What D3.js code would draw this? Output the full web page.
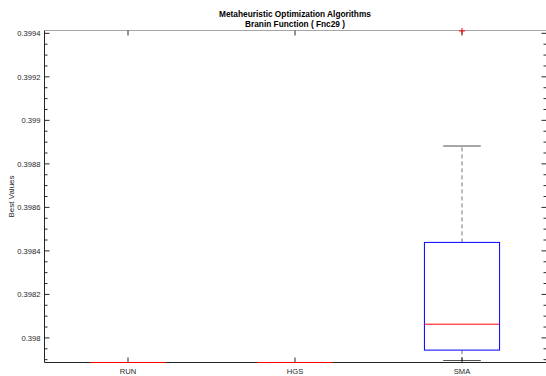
<!DOCTYPE html>
<html lang="en">
<head>
    <meta charset="UTF-8">
    <title>Branin Function boxplot</title>
    <script src="https://d3js.org/d3.v7.min.js"></script>
    <style>
        body { margin: 0; background: #fff; }
        svg { display: block; font-family: "Liberation Sans", Arial, sans-serif; }
        .tick-label { font-size: 7.6px; fill: #262626; }
        .title { font-size: 8.3px; font-weight: bold; fill: #000; }
    </style>
</head>
<body>
    <svg width="546" height="376"></svg>

    <script>
        // Box statistics per algorithm
        const algorithms = ["RUN", "HGS", "SMA"];
        const lowerWhisker = [0.397887, 0.397887, 0.397896];
        const q1 = [0.397887, 0.397887, 0.397944];
        const median = [0.397887, 0.397887, 0.398063];
        const q3 = [0.397887, 0.397887, 0.398439];
        const upperWhisker = [0.397887, 0.397887, 0.398882];
        const outliers = [[], [], [0.399411]];
        const yTicks = [0.398, 0.3982, 0.3984, 0.3986, 0.3988, 0.399, 0.3992, 0.3994];
        const yTickLabels = ["0.398", "0.3982", "0.3984", "0.3986", "0.3988", "0.399", "0.3992", "0.3994"];

        const svg = d3.select("svg");
        // half-pixel edges so the axis frame lines stay sharp
        const plotLeft = 44.5, plotRight = 545.5, plotTop = 30.5, plotBottom = 362.5;

        const x = d3.scaleLinear().domain([0.5, 3.5]).range([plotLeft, plotRight]);
        const y = d3.scaleLinear().domain([0.397887, 0.399413]).range([plotBottom, plotTop]);

        const boxHalf = 0.225, capHalf = 0.1125;

        // minor ticks every 0.00005
        const minorTicks = d3.range(0, 31).map(i => 0.3979 + i * 0.00005)
            .filter(v => v >= y.domain()[0] && v <= y.domain()[1]);

        const g = svg.append("g");

        // top border (gray)
        g.append("line")
            .attr("x1", plotLeft).attr("x2", plotRight + 1).attr("y1", plotTop).attr("y2", plotTop)
            .attr("stroke", "#a6a6a6").attr("stroke-width", 1);

        // left and bottom axis lines
        g.append("line")
            .attr("x1", plotLeft).attr("x2", plotLeft).attr("y1", plotTop).attr("y2", plotBottom)
            .attr("stroke", "#262626");
        g.append("line")
            .attr("x1", plotLeft).attr("x2", plotRight + 1).attr("y1", plotBottom).attr("y2", plotBottom)
            .attr("stroke", "#262626");

        // y ticks on left and right
        minorTicks.forEach(v => {
            const isMajor = yTicks.some(t => Math.abs(t - v) < 1e-9);
            const len = isMajor ? 5 : 3;
            g.append("line")
                .attr("x1", plotLeft).attr("x2", plotLeft + len)
                .attr("y1", y(v)).attr("y2", y(v))
                .attr("stroke", "#262626");
            g.append("line")
                .attr("x1", plotRight + 1).attr("x2", plotRight + 1 - len)
                .attr("y1", y(v)).attr("y2", y(v))
                .attr("stroke", "#262626");
        });

        yTicks.forEach((v, i) => {
            g.append("text")
                .attr("class", "tick-label")
                .attr("x", plotLeft - 4)
                .attr("y", y(v))
                .attr("dy", "0.35em")
                .attr("text-anchor", "end")
                .text(yTickLabels[i]);
        });

        // x ticks (bottom and top, pointing inward)
        algorithms.forEach((name, i) => {
            const cx = x(i + 1);
            g.append("line")
                .attr("x1", cx).attr("x2", cx).attr("y1", plotBottom).attr("y2", plotBottom - 5)
                .attr("stroke", "#262626");
            g.append("line")
                .attr("x1", cx).attr("x2", cx).attr("y1", plotTop).attr("y2", plotTop + 5)
                .attr("stroke", "#262626");
            g.append("text")
                .attr("class", "tick-label")
                .attr("x", cx).attr("y", plotBottom + 8.5)
                .attr("dy", "0.35em")
                .attr("text-anchor", "middle")
                .text(name);
        });

        // boxes
        algorithms.forEach((name, i) => {
            const cx = x(i + 1);
            const bw = x(i + 1 + boxHalf) - cx;
            const cw = x(i + 1 + capHalf) - cx;

            // whiskers
            g.append("line")
                .attr("x1", cx).attr("x2", cx)
                .attr("y1", y(q3[i])).attr("y2", y(upperWhisker[i]))
                .attr("stroke", "#000").attr("stroke-dasharray", "4,3")
                .attr("stroke-opacity", 0.55);
            g.append("line")
                .attr("x1", cx).attr("x2", cx)
                .attr("y1", y(q1[i])).attr("y2", y(lowerWhisker[i]))
                .attr("stroke", "#000").attr("stroke-dasharray", "4,3")
                .attr("stroke-opacity", 0.55);

            // caps
            [upperWhisker[i], lowerWhisker[i]].forEach(v => {
                g.append("line")
                    .attr("x1", cx - cw).attr("x2", cx + cw)
                    .attr("y1", y(v)).attr("y2", y(v))
                    .attr("stroke", "#000").attr("stroke-opacity", 0.7);
            });

            // box
            g.append("rect")
                .attr("x", cx - bw).attr("width", 2 * bw)
                .attr("y", y(q3[i])).attr("height", y(q1[i]) - y(q3[i]))
                .attr("fill", "none").attr("stroke", "#0000ff");

            // median
            g.append("line")
                .attr("x1", cx - bw).attr("x2", cx + bw)
                .attr("y1", y(median[i])).attr("y2", y(median[i]))
                .attr("stroke", "#ff0000");

            // outliers
            outliers[i].forEach(v => {
                g.append("path")
                    .attr("d", `M${cx - 3},${y(v)}h6M${cx},${y(v) - 3}v6`)
                    .attr("stroke", "#ff0000");
            });
        });

        // y label
        svg.append("text")
            .attr("class", "tick-label")
            .attr("transform", `translate(11,${(plotTop + plotBottom) / 2}) rotate(-90)`)
            .attr("text-anchor", "middle")
            .attr("dy", "0.35em")
            .style("font-size", "8px")
            .text("Best Values");

        // title
        const cxTitle = (plotLeft + plotRight) / 2;
        svg.append("text").attr("class", "title")
            .attr("x", cxTitle).attr("y", 14).attr("dy", "0.35em")
            .attr("text-anchor", "middle")
            .text("Metaheuristic Optimization Algorithms");
        svg.append("text").attr("class", "title")
            .attr("x", cxTitle).attr("y", 24.5).attr("dy", "0.35em")
            .attr("text-anchor", "middle")
            .text("Branin Function ( Fnc29 )");
    </script>
</body>
</html>
